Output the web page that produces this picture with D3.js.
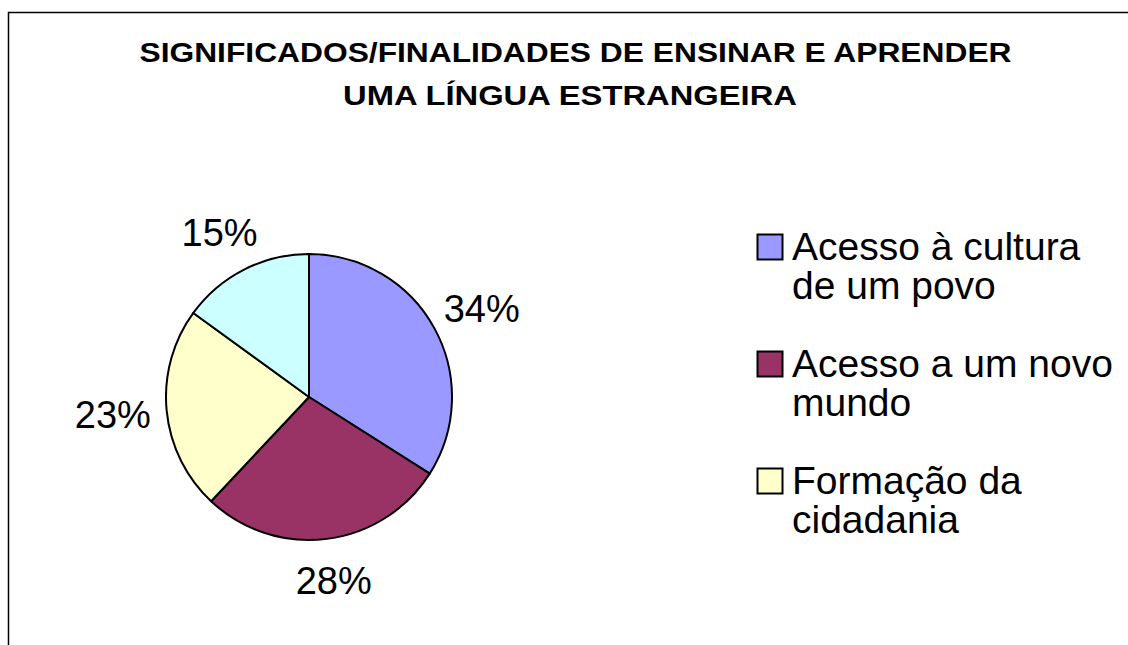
<!DOCTYPE html>
<html lang="pt">
<head>
<meta charset="UTF-8">
<title>Significados/finalidades</title>
<style>
  body { margin: 0; background: #fff; }
  svg { display: block; font-family: Arial, 'Liberation Sans', sans-serif; }
</style>
</head>
<body>
<svg id="chart" width="1128" height="645"></svg>
<script src="https://d3js.org/d3.v7.min.js"></script>
<script>
const titleLines = ["SIGNIFICADOS/FINALIDADES DE ENSINAR E APRENDER", "UMA LÍNGUA ESTRANGEIRA"];
const categories = ["Acesso à cultura de um povo", "Acesso a um novo mundo", "Formação da cidadania", "Outros"];
const values = [34, 28, 23, 15];
const colors = ["#9999ff", "#993366", "#ffffcc", "#ccffff"];
// legend wraps each name on two lines; 4th entry falls outside the frame
const legendLines = [["Acesso à cultura", "de um povo"], ["Acesso a um novo", "mundo"], ["Formação da", "cidadania"]];

const svg = d3.select("#chart");

// chart frame (right and bottom edges run off the picture)
svg.append("rect")
  .attr("x", 8.5).attr("y", 12.5)
  .attr("width", 1130).attr("height", 650)
  .attr("fill", "#fff").attr("stroke", "#000").attr("stroke-width", 1.5);

// the original title is set wider than our fonts, stretch to match
const titleWidths = [872, 454];
svg.append("g").selectAll("text")
  .data(titleLines)
  .join("text")
  .attr("x", (d, i) => i ? 570 : 575.5)
  .attr("y", (d, i) => 62 + i * 43)
  .attr("text-anchor", "middle")
  .attr("font-size", 27)
  .attr("font-weight", "bold")
  .attr("textLength", (d, i) => titleWidths[i])
  .attr("lengthAdjust", "spacingAndGlyphs")
  .text(d => d);

const cx = 309, cy = 397, r = 143;
const pie = d3.pie().sort(null).value(d => d);
const arcs = pie(values);
const arc = d3.arc().innerRadius(0).outerRadius(r);

const g = svg.append("g").attr("transform", `translate(${cx},${cy})`);

g.selectAll("path")
  .data(arcs)
  .join("path")
  .attr("d", arc)
  .attr("fill", (d, i) => colors[i])
  .attr("stroke", "#000")
  .attr("stroke-width", 2)
  .attr("stroke-linejoin", "round");

// labels sit outside the rim, box kept a small gap away from the pie
const total = d3.sum(values);
const gap = 16;
const labels = g.selectAll("text")
  .data(arcs)
  .join("text")
  .attr("text-anchor", "middle")
  .attr("dy", "0.36em")
  .attr("font-size", 38)
  .text(d => Math.round(d.data / total * 100) + "%");

labels.attr("transform", function(d) {
  const b = this.getBBox();
  const a = (d.startAngle + d.endAngle) / 2;
  const ux = Math.sin(a), uy = -Math.cos(a);
  const rx = r + gap + b.width / 2, ry = r + gap + 26;
  return `translate(${ux * rx},${uy * ry})`;
});

const legend = svg.append("g").attr("transform", "translate(757,234)");
const item = legend.selectAll("g")
  .data(legendLines)
  .join("g")
  .attr("transform", (d, i) => `translate(0,${i * 117})`);

item.append("rect")
  .attr("x", 0.5).attr("y", 0.5)
  .attr("width", 25).attr("height", 25)
  .attr("fill", (d, i) => colors[i])
  .attr("stroke", "#000").attr("stroke-width", 2);

item.selectAll("text")
  .data(d => d)
  .join("text")
  .attr("x", 35)
  .attr("y", (d, j) => 26 + j * 39)
  .attr("font-size", 39)
  .text(d => d);
</script>
</body>
</html>
